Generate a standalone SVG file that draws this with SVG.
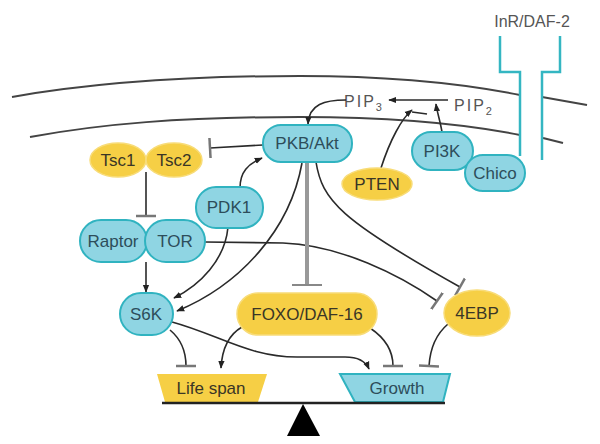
<svg xmlns="http://www.w3.org/2000/svg" width="600" height="444" viewBox="0 0 600 444">
<defs>
<style>
.mem{fill:none;stroke:#444;stroke-width:2}
.rec{fill:none;stroke:#34b6c2;stroke-width:2.5}
.c{fill:none;stroke:#2a2a2a;stroke-width:1.6}
.b{fill:#8fd5e3;stroke:#30b3c0;stroke-width:2}
.y{fill:#f6cf45;stroke:#f8dc78;stroke-width:1.5}
.tb{font-family:"Liberation Sans",Arial,sans-serif;font-size:17px;fill:#2d4d5a;text-anchor:middle}
.ty{font-family:"Liberation Sans",Arial,sans-serif;font-size:17px;fill:#3a3626;text-anchor:middle}
.tl{font-family:"Liberation Sans",Arial,sans-serif;font-size:16px;fill:#555;text-anchor:middle}
</style>
<marker id="arr" viewBox="0 0 10 10" refX="9" refY="5" markerWidth="8" markerHeight="8" markerUnits="userSpaceOnUse" orient="auto"><path d="M0,1 L10,5 L0,9 z" fill="#222"/></marker>
<marker id="tee" viewBox="0 0 4 20" refX="2" refY="10" markerWidth="4" markerHeight="20" markerUnits="userSpaceOnUse" orient="auto"><path d="M2,0 V20" stroke="#777" stroke-width="2.5"/></marker>
<marker id="teeW" viewBox="0 0 4 30" refX="2" refY="15" markerWidth="4" markerHeight="30" markerUnits="userSpaceOnUse" orient="auto"><path d="M2,0 V30" stroke="#888" stroke-width="2"/></marker>
</defs>
<g id="membrane">
<path class="mem" d="M12,97 C80,85 180,76 300,76 C400,76 470,85 520,95"/>
<path class="mem" d="M542,97 L587,105"/>
<path class="mem" d="M30,137 C100,124 180,117 300,117 C400,117 470,125 520,135"/>
<path class="mem" d="M543,138 L563,143"/>
</g>
<g id="receptor">
<path class="rec" d="M500,36 V72 H520 V156"/>
<path class="rec" d="M560,36 V72 H542 V160"/>
<text class="tl" x="532" y="27">InR/DAF-2</text>
</g>
<g id="pip3"><text class="tl" x="364" y="107" letter-spacing="2">PIP<tspan font-size="11" dy="4">3</tspan></text></g>
<g id="pip2"><text class="tl" x="474" y="111" letter-spacing="2">PIP<tspan font-size="11" dy="4">2</tspan></text></g>
<g id="connectors">
<path class="c" d="M346,100 C325,100 309,104 308,124" marker-end="url(#arr)"/>
<path class="c" d="M448,100 L389,100" marker-end="url(#arr)"/>
<path class="c" d="M442,132 C440,120 437,112 436,104" marker-end="url(#arr)"/>
<path class="c" d="M381,168 C390,140 402,118 412,110" marker-end="url(#arr)"/>
<path class="c" d="M412,112 L427,114"/>
<path class="c" d="M263,145 L210,148" marker-end="url(#tee)"/>
<path class="c" d="M240,188 C240,172 248,164 262,158" marker-end="url(#arr)"/>
<path class="c" d="M146,172 V216" marker-end="url(#tee)"/>
<path class="c" d="M146,262 V292" marker-end="url(#arr)"/>
<path class="c" d="M205,242 L283,243 C340,245 400,275 437,301" marker-end="url(#tee)"/>
<path class="c" d="M316,162 C322,200 340,220 460,287" marker-end="url(#tee)"/>
<path d="M307,162 V285" fill="none" stroke="#999" stroke-width="4" marker-end="url(#teeW)"/>
<path class="c" d="M302,163 C290,230 240,285 177,311" marker-end="url(#arr)"/>
<path class="c" d="M228,227 C225,260 200,285 174,298" marker-end="url(#arr)"/>
<path class="c" d="M170,330 C182,340 186,352 186,366" marker-end="url(#tee)"/>
<path class="c" d="M242,327 C228,335 222,350 221,368" marker-end="url(#arr)"/>
<path class="c" d="M172,322 C220,335 250,358 300,357 L345,357 C360,357 366,362 369,369" marker-end="url(#arr)"/>
<path class="c" d="M370,328 C385,338 393,350 393,366" marker-end="url(#tee)"/>
<path class="c" d="M448,324 C435,335 430,350 429,366" marker-end="url(#tee)"/>
</g>
<g id="tsc1"><ellipse class="y" cx="118" cy="160" rx="28" ry="17"/><text class="ty" x="118" y="166">Tsc1</text></g>
<g id="tsc2"><ellipse class="y" cx="174" cy="160" rx="28" ry="17"/><text class="ty" x="174" y="166">Tsc2</text></g>
<g id="pkb"><rect class="b" x="263" y="125" width="89" height="37" rx="18"/><text class="tb" x="307" y="149">PKB/Akt</text></g>
<g id="pdk1"><rect class="b" x="196" y="187" width="67" height="41" rx="20"/><text class="tb" x="229" y="213">PDK1</text></g>
<g id="raptor"><rect class="b" x="80" y="220" width="67" height="42" rx="21"/><text class="tb" x="113" y="247">Raptor</text></g>
<g id="tor"><rect class="b" x="145" y="220" width="60" height="42" rx="21"/><text class="tb" x="175" y="247">TOR</text></g>
<g id="pten"><ellipse class="y" cx="377" cy="184" rx="35" ry="16"/><text class="ty" x="377" y="190">PTEN</text></g>
<g id="pi3k"><rect class="b" x="412" y="132" width="61" height="38" rx="19"/><text class="tb" x="442" y="157">PI3K</text></g>
<g id="chico"><rect class="b" x="465" y="155" width="60" height="36" rx="18"/><text class="tb" x="495" y="179">Chico</text></g>
<g id="s6k"><rect class="b" x="120" y="293" width="53" height="42" rx="21"/><text class="tb" x="146" y="320">S6K</text></g>
<g id="foxo"><rect class="y" x="237" y="293" width="140" height="42" rx="21"/><text class="ty" x="307" y="320">FOXO/DAF-16</text></g>
<g id="ebp"><ellipse class="y" cx="477" cy="313" rx="33" ry="23"/><text class="ty" x="477" y="319">4EBP</text></g>
<g id="lifespan"><polygon points="157,374 267,374 258,402 165,402" fill="#f6cf45"/><text class="ty" x="211" y="394">Life span</text></g>
<g id="growth"><polygon class="b" points="340,374 450,374 443,402 355,402"/><text class="tb" x="397" y="394">Growth</text></g>
<g id="balance">
<line x1="162" y1="403" x2="445" y2="403" stroke="#222" stroke-width="2.5"/>
<polygon points="303,404 287,436 320,436" fill="#000"/>
</g>
</svg>
